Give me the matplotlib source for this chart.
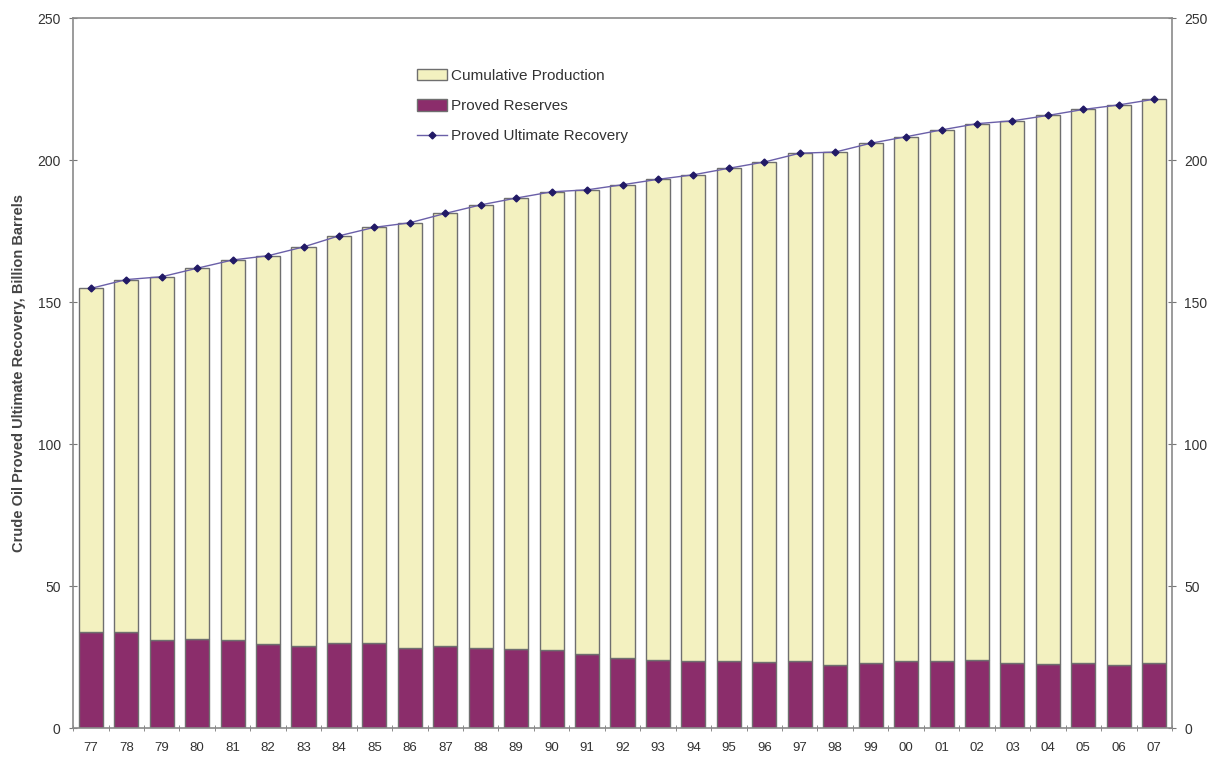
import numpy as np
import matplotlib
matplotlib.use('Agg')
import matplotlib.pyplot as plt

plt.rcParams['font.family'] = ['Liberation Sans', 'DejaVu Sans']

years = ['77', '78', '79', '80', '81', '82', '83', '84', '85', '86', '87', '88', '89', '90', '91',
         '92', '93', '94', '95', '96', '97', '98', '99', '00', '01', '02', '03', '04', '05', '06', '07']

# proved reserves (billion barrels)
reserves = [33.9, 33.9, 31.0, 31.4, 31.1, 29.5, 29.0, 30.0, 30.0, 28.3, 28.8, 28.3, 27.8, 27.3, 25.9,
            24.8, 24.1, 23.6, 23.6, 23.2, 23.7, 22.2, 22.9, 23.5, 23.5, 24.0, 22.9, 22.4, 22.9, 22.1, 22.9]

# proved ultimate recovery = reserves + cumulative production
ultimate = [154.8, 157.9, 158.9, 161.9, 164.8, 166.3, 169.4, 173.3, 176.3, 177.9, 181.2, 184.2, 186.6, 188.8, 189.5,
            191.3, 193.2, 194.8, 197.1, 199.3, 202.4, 202.8, 205.9, 208.2, 210.6, 212.8, 213.8, 215.7, 217.8, 219.4, 221.4]

cumulative = [u - r for u, r in zip(ultimate, reserves)]

x = np.arange(len(years))

fig = plt.figure(figsize=(12.19, 7.57), dpi=100)
ax = fig.add_axes([0.06, 0.0383, 0.9014, 0.9379])

edge = '#6f6f6f'
b_res = ax.bar(x, reserves, width=0.68, color='#8b2d6b', edgecolor=edge, linewidth=1.0, zorder=2)
b_cum = ax.bar(x, cumulative, width=0.68, bottom=reserves, color='#f3f1c0', edgecolor=edge, linewidth=1.0,
               zorder=2)
ln, = ax.plot(x, ultimate, color='#6a5fa8', linewidth=1.0, marker='D', markersize=3.5,
              markerfacecolor='#221a66', markeredgecolor='#221a66', zorder=3)

ax.set_xlim(-0.5, len(years) - 0.5)
ax.set_ylim(0, 250)
ax.set_yticks(np.arange(0, 251, 50))
ax.set_xticks(x)
ax.set_xticklabels(years)
ax.set_xticks(np.arange(-0.5, len(years), 1), minor=True)
ax.tick_params(axis='x', which='major', length=0, pad=10, labelsize=9.5, colors='#333333')
ax.tick_params(axis='x', which='minor', length=5, direction='inout', color='#777777')
ax.tick_params(axis='y', length=6, direction='inout', color='#777777', labelsize=10, labelcolor='#333333',
               right=True, labelright=True, left=True, labelleft=True, pad=6)

for s in ax.spines.values():
    s.set_color('#8a8a8a')
    s.set_linewidth(1.2)

ax.set_ylabel('Crude Oil Proved Ultimate Recovery, Billion Barrels', fontsize=10.5, fontweight='bold',
              color='#444444', labelpad=8)

ax.legend([b_cum, b_res, ln], ['Cumulative Production', 'Proved Reserves', 'Proved Ultimate Recovery'],
          loc='upper left', bbox_to_anchor=(0.3, 0.948), frameon=False, fontsize=11, labelspacing=1.05,
          handlelength=2.0, handleheight=0.8, handletextpad=0.25, labelcolor='#333333')

plt.savefig('out.png', dpi=100)
